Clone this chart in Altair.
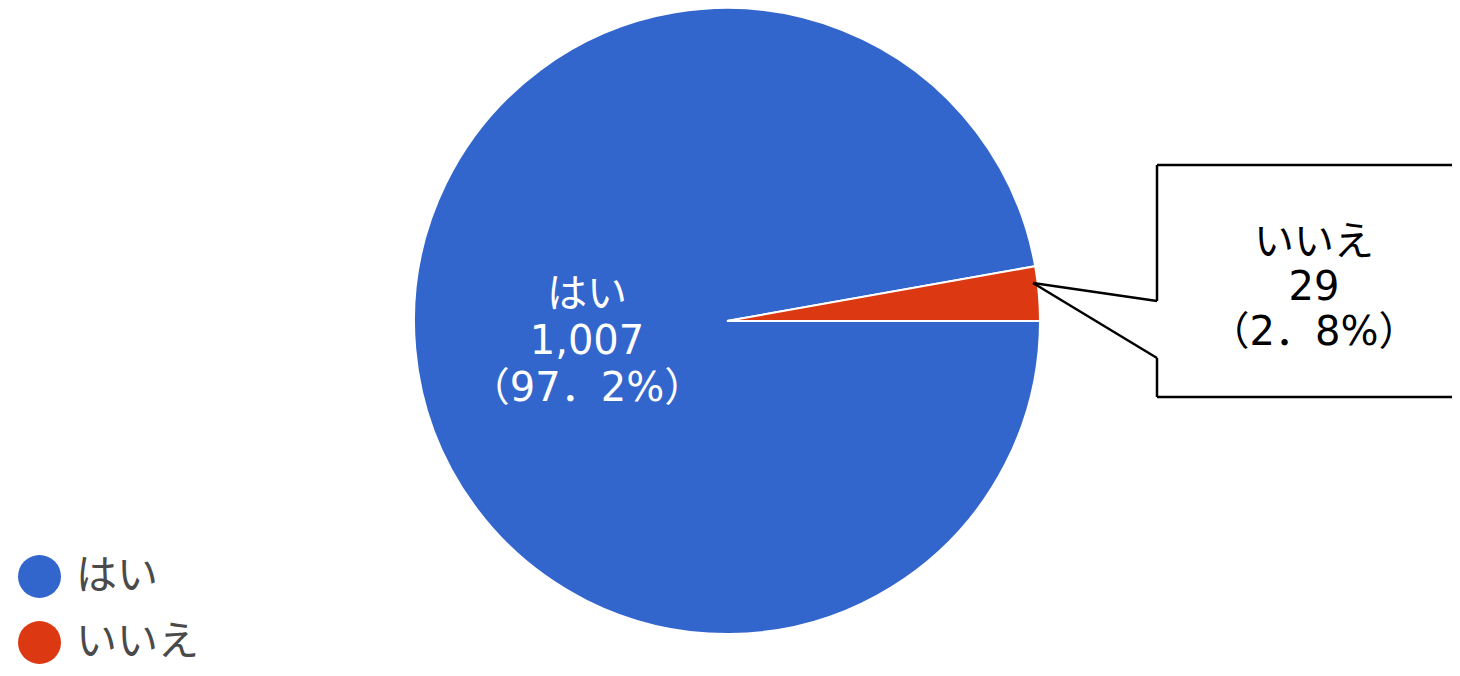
import math
import altair as alt
import pandas as pd

# ---- data ----
categories = ["はい", "いいえ"]
counts = [1007, 29]
colors = ["#3366CC", "#DC3912"]

total = sum(counts)
pct_text = [f"{c / total * 100:.1f}".replace(".", "．") for c in counts]
labels = [f"{cat}\n{c:,}\n（{p}%）" for cat, c, p in zip(categories, counts, pct_text)]

df = pd.DataFrame({
    "category": categories,
    "count": counts,
    "order": list(range(len(categories))),
    "label": labels,
})

FONT = "Noto Sans CJK JP"
LABEL_FONT = "DejaVu Sans, Noto Sans CJK JP"

pie = alt.Chart(df).mark_arc(radius=313, stroke="white", strokeWidth=2).encode(
    theta=alt.Theta("count:Q", stack=True,
                    scale=alt.Scale(range=[math.pi / 2, math.pi / 2 + 2 * math.pi])),
    color=alt.Color(
        "category:N",
        sort=categories,
        scale=alt.Scale(domain=categories, range=colors),
        legend=alt.Legend(
            title=None, orient="none", legendX=10, legendY=547,
            symbolType="circle", symbolSize=1849, symbolStrokeWidth=0,
            labelFont=FONT, labelFontSize=41, labelColor="#4a4a4a",
            labelOffset=15, rowPadding=23, padding=0,
        ),
    ),
    order=alt.Order("order:Q"),
    x=alt.value(719),
    y=alt.value(313),
)

inner_label = alt.Chart(df).transform_filter(
    alt.datum.category == categories[0]
).mark_text(
    font=LABEL_FONT, fontSize=40, lineHeight=47, color="white",
    lineBreak="\n", align="center", baseline="middle",
).encode(text="label:N", x=alt.value(579), y=alt.value(287))

callout_label = alt.Chart(df).transform_filter(
    alt.datum.category == categories[1]
).mark_text(
    font=LABEL_FONT, fontSize=40, lineHeight=45, color="black",
    lineBreak="\n", align="center", baseline="middle",
).encode(text="label:N", x=alt.value(1306), y=alt.value(235))


def seg(x1, y1, x2, y2):
    return alt.Chart(alt.Data(values=[{"s": 1}])).mark_rule(
        color="black", strokeWidth=2.5
    ).encode(x=alt.value(x1), y=alt.value(y1), x2=alt.value(x2), y2=alt.value(y2))


segments = [
    seg(1149, 157, 1470, 157),
    seg(1149, 389, 1470, 389),
    seg(1149, 157, 1149, 293),
    seg(1149, 350, 1149, 389),
    seg(1025, 275, 1149, 293),
    seg(1025, 275, 1149, 350),
]

chart = alt.layer(pie, inner_label, callout_label, *segments).properties(
    width=1444, height=660, autosize="none", padding=0,
).configure_view(stroke=None)

chart.save("out.html", embed_options={"renderer": "svg", "actions": False})
